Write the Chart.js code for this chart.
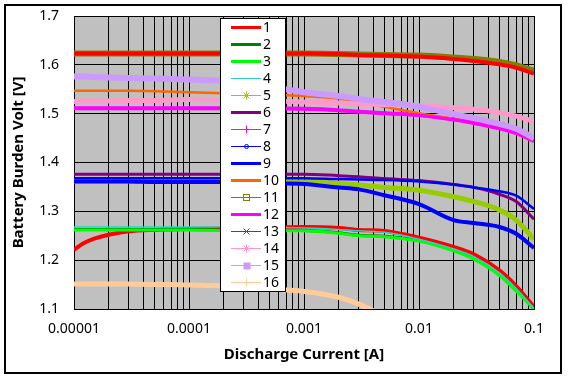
<!DOCTYPE html>
<html>
<head>
<meta charset="utf-8">
<title>Battery Burden Volt</title>
<script src="https://cdn.jsdelivr.net/npm/chart.js@4.4.1/dist/chart.umd.min.js"></script>
<style>
    html, body { margin: 0; padding: 0; background: #fff; }
    #wrap { width: 568px; height: 379px; }
</style>
</head>
<body>
<div id="wrap"><canvas id="grafica" width="568" height="379"></canvas></div>
<script>
/* -----------------------------
   DATOS
----------------------------- */
const seriesNames = ["1", "2", "3", "4", "5", "6", "7", "8", "9", "10", "11", "12", "13", "14", "15", "16"];

const currents = [0.00001, 0.000012, 0.000015, 0.00002, 0.00003, 0.00005, 0.00007, 0.0001, 0.0002, 0.0005,
                  0.001, 0.002, 0.003, 0.005, 0.01, 0.02, 0.03, 0.05, 0.07, 0.1];

const volt1  = [1.221, 1.234, 1.244, 1.252, 1.259, 1.262, 1.263, 1.264, 1.265, 1.267, 1.268, 1.266, 1.262, 1.260, 1.246, 1.227, 1.212, 1.179, 1.147, 1.104];
const volt2  = [1.263, 1.263, 1.263, 1.263, 1.263, 1.263, 1.263, 1.263, 1.262, 1.261, 1.261, 1.256, 1.251, 1.249, 1.240, 1.220, 1.203, 1.170, 1.138, 1.101];
const volt3  = [1.262, 1.262, 1.262, 1.262, 1.262, 1.262, 1.262, 1.262, 1.261, 1.260, 1.260, 1.255, 1.250, 1.248, 1.239, 1.219, 1.202, 1.169, 1.137, 1.100];
const volt4  = [1.268, 1.268, 1.268, 1.268, 1.268, 1.268, 1.268, 1.268, 1.268, 1.267, 1.266, 1.263, 1.260, 1.257, 1.243, 1.223, 1.207, 1.174, 1.142, 1.101];
const volt5  = [1.362, 1.362, 1.362, 1.362, 1.362, 1.362, 1.362, 1.362, 1.361, 1.361, 1.360, 1.357, 1.354, 1.349, 1.343, 1.330, 1.320, 1.303, 1.282, 1.243];
const volt6  = [1.376, 1.376, 1.376, 1.376, 1.376, 1.376, 1.376, 1.376, 1.376, 1.376, 1.376, 1.373, 1.371, 1.367, 1.363, 1.355, 1.349, 1.335, 1.320, 1.284];
const volt7  = [1.511, 1.511, 1.511, 1.511, 1.511, 1.511, 1.511, 1.511, 1.511, 1.511, 1.510, 1.507, 1.504, 1.501, 1.497, 1.488, 1.481, 1.470, 1.460, 1.444];
const volt8  = [1.361, 1.361, 1.361, 1.361, 1.361, 1.360, 1.360, 1.360, 1.360, 1.358, 1.356, 1.349, 1.345, 1.333, 1.315, 1.282, 1.276, 1.268, 1.254, 1.225];
const volt9  = [1.368, 1.368, 1.368, 1.368, 1.368, 1.368, 1.368, 1.368, 1.368, 1.368, 1.368, 1.366, 1.365, 1.364, 1.361, 1.355, 1.349, 1.341, 1.332, 1.305];
const volt10 = [1.547, 1.547, 1.547, 1.547, 1.547, 1.546, 1.545, 1.544, 1.542, 1.539, 1.536, 1.531, 1.524, 1.514, 1.501, 1.489, 1.481, 1.470, 1.459, 1.443];
const volt11 = [1.623, 1.623, 1.623, 1.623, 1.623, 1.623, 1.623, 1.623, 1.623, 1.623, 1.623, 1.622, 1.621, 1.620, 1.619, 1.615, 1.612, 1.606, 1.599, 1.588];
const volt12 = [1.511, 1.511, 1.511, 1.511, 1.511, 1.511, 1.511, 1.511, 1.511, 1.511, 1.510, 1.507, 1.504, 1.501, 1.497, 1.488, 1.481, 1.470, 1.460, 1.444];
const volt13 = [1.623, 1.623, 1.623, 1.623, 1.623, 1.623, 1.623, 1.623, 1.623, 1.623, 1.623, 1.622, 1.620, 1.619, 1.617, 1.612, 1.608, 1.601, 1.594, 1.582];
const volt14 = [1.525, 1.526, 1.526, 1.526, 1.527, 1.527, 1.528, 1.529, 1.528, 1.526, 1.524, 1.522, 1.520, 1.519, 1.516, 1.512, 1.509, 1.502, 1.495, 1.484];
const volt15 = [1.576, 1.576, 1.575, 1.574, 1.573, 1.572, 1.571, 1.570, 1.567, 1.555, 1.544, 1.536, 1.530, 1.524, 1.514, 1.499, 1.491, 1.479, 1.469, 1.450];
const volt16 = [1.151, 1.151, 1.151, 1.151, 1.151, 1.150, 1.150, 1.149, 1.147, 1.141, 1.136, 1.124, 1.110, 1.085, null, null, null, null, null, null];

const xTickValues = [0.00001, 0.0001, 0.001, 0.01, 0.1];
const xTickLabels = ["0.00001", "0.0001", "0.001", "0.01", "0.1"];
const yTickLabels = ["1.1", "1.2", "1.3", "1.4", "1.5", "1.6", "1.7"];

const allVolts = [volt1, volt2, volt3, volt4, volt5, volt6, volt7, volt8,
                  volt9, volt10, volt11, volt12, volt13, volt14, volt15, volt16];

/* -----------------------------
   ESTILOS
----------------------------- */
const colores = ["#FF0000", "#008000", "#00FF00", "#33CCCC", "#99CC00", "#800080", "#FF00FF", "#0000FF",
                 "#0000FF", "#FF6600", "#808000", "#FF00FF", "#FF0000", "#FF99CC", "#CC99FF", "#FFCC99"];
// grosor en el grafico (las series con marcadores densos se ven como bandas)
const grosores = [4, 3, 3, 1.5, 5, 3, 4, 4, 2.5, 2.5, 6, 3, 4, 5, 6, 5];
// grosor de la muestra en la leyenda
const grosoresLeyenda = [3, 3, 3, 1, 1, 3, 1, 1, 3, 3, 1, 3, 1, 1, 1, 1];
const marcadores = [null, null, null, null, "star", null, "plus", "circle",
                    null, null, "square", null, "cross", "star", "fsquare", "plus"];

const FUENTE = "'Noto Sans', sans-serif";
Chart.defaults.font.family = FUENTE;

/* -----------------------------
   PLUGINS
----------------------------- */
const fondoPlugin = {
    id: "fondo",
    beforeDraw(chart) {
        const { ctx, chartArea } = chart;
        ctx.save();
        ctx.fillStyle = "#fff";
        ctx.fillRect(0, 0, chart.width, chart.height);
        ctx.strokeStyle = "#000";
        ctx.lineWidth = 2;
        ctx.strokeRect(5, 5, 556, 368);
        ctx.fillStyle = "#C0C0C0";
        ctx.fillRect(chartArea.left, chartArea.top, chartArea.right - chartArea.left, chartArea.bottom - chartArea.top);
        ctx.restore();
    }
};

function dibujarMarcador(ctx, tipo, x, y, color) {
    ctx.strokeStyle = color;
    ctx.fillStyle = color;
    ctx.lineWidth = 1;
    ctx.beginPath();
    if (tipo === "star" || tipo === "cross") {
        ctx.moveTo(x - 3, y - 3); ctx.lineTo(x + 3, y + 3);
        ctx.moveTo(x + 3, y - 3); ctx.lineTo(x - 3, y + 3);
        if (tipo === "star") { ctx.moveTo(x, y - 4); ctx.lineTo(x, y + 4); }
        ctx.stroke();
    } else if (tipo === "plus") {
        ctx.moveTo(x, y - 4); ctx.lineTo(x, y + 4);
        ctx.moveTo(x - 3, y); ctx.lineTo(x + 3, y);
        ctx.stroke();
    } else if (tipo === "circle") {
        ctx.arc(x, y, 2, 0, Math.PI * 2);
        ctx.stroke();
    } else if (tipo === "square") {
        ctx.strokeRect(x - 3, y - 3, 6, 6);
    } else if (tipo === "fsquare") {
        ctx.fillRect(x - 3, y - 3, 7, 7);
    }
}

const leyendaPlugin = {
    id: "leyenda",
    afterDatasetsDraw(chart) {
        const ctx = chart.ctx;
        ctx.save();
        ctx.fillStyle = "#fff";
        ctx.fillRect(220, 18, 66, 274);
        ctx.strokeStyle = "#000";
        ctx.lineWidth = 1;
        ctx.strokeRect(220.5, 18.5, 65, 273);

        ctx.font = "14px " + FUENTE;
        ctx.textAlign = "left";
        ctx.textBaseline = "middle";

        chart.data.datasets.forEach((ds, i) => {
            const y = 27 + i * 17;
            const w = grosoresLeyenda[i];
            const yl = w % 2 === 1 ? y + 0.5 : y;
            ctx.strokeStyle = colores[i];
            ctx.lineWidth = w;
            ctx.beginPath();
            ctx.moveTo(231, yl);
            ctx.lineTo(261, yl);
            ctx.stroke();
            if (marcadores[i]) {
                dibujarMarcador(ctx, marcadores[i], 246.5, y + 0.5, colores[i]);
            }
            ctx.fillStyle = "#000";
            ctx.fillText(ds.label, 263, y + 1);
        });
        ctx.restore();
    }
};

/* -----------------------------
   GRAFICA
----------------------------- */
const datasets = seriesNames.map((nombre, i) => ({
    label: nombre,
    data: currents.map((c, j) => ({ x: c, y: allVolts[i][j] })),
    borderColor: colores[i],
    backgroundColor: colores[i],
    borderWidth: grosores[i],
    pointRadius: 0,
    cubicInterpolationMode: "monotone",
    fill: false,
    spanGaps: false,
    order: seriesNames.length - i
}));

new Chart(document.getElementById("grafica"), {
    type: "line",
    data: { datasets },
    options: {
        responsive: false,
        animation: false,
        events: [],
        layout: { padding: { top: 16, right: 34, left: 0, bottom: 0 } },
        plugins: {
            legend: { display: false },
            tooltip: { enabled: false }
        },
        scales: {
            x: {
                type: "logarithmic",
                min: 0.00001,
                max: 0.1,
                afterBuildTicks: (scale) => {
                    const ticks = [];
                    xTickValues.forEach((d, k) => {
                        if (k === xTickValues.length - 1) {
                            ticks.push({ value: d });
                            return;
                        }
                        for (let m = 1; m <= 9; m++) ticks.push({ value: m * d });
                    });
                    scale.ticks = ticks;
                },
                afterFit: (scale) => {
                    scale.height = 70;
                    scale.paddingLeft = 0;
                    scale.paddingRight = 0;
                },
                ticks: {
                    autoSkip: false,
                    maxRotation: 0,
                    padding: 12,
                    color: "#000",
                    font: { size: 14 },
                    callback: (value) => {
                        const k = xTickValues.findIndex(v => Math.abs(Math.log10(value / v)) < 1e-6);
                        return k >= 0 ? xTickLabels[k] : "";
                    }
                },
                grid: { color: "#000", lineWidth: 1, drawTicks: false },
                border: { color: "#000", width: 1 },
                title: {
                    display: true,
                    text: "Discharge Current [A]",
                    color: "#000",
                    font: { size: 15, weight: "bold" },
                    padding: { top: 0, bottom: 15 }
                }
            },
            y: {
                min: 1.1,
                max: 1.7,
                afterBuildTicks: (scale) => {
                    scale.ticks = yTickLabels.map(t => ({ value: parseFloat(t) }));
                },
                afterFit: (scale) => {
                    scale.width = 74;
                    scale.paddingTop = 0;
                    scale.paddingBottom = 0;
                },
                ticks: {
                    padding: 15,
                    color: "#000",
                    font: { size: 14 },
                    callback: (value, index) => yTickLabels[index]
                },
                grid: { color: "#000", lineWidth: 1, drawTicks: false },
                border: { color: "#000", width: 1 },
                title: {
                    display: true,
                    text: "Battery Burden Volt [V]",
                    color: "#000",
                    font: { size: 15, weight: "bold" },
                    padding: { top: 10, bottom: 0 }
                }
            }
        }
    },
    plugins: [fondoPlugin, leyendaPlugin]
});
</script>
</body>
</html>
